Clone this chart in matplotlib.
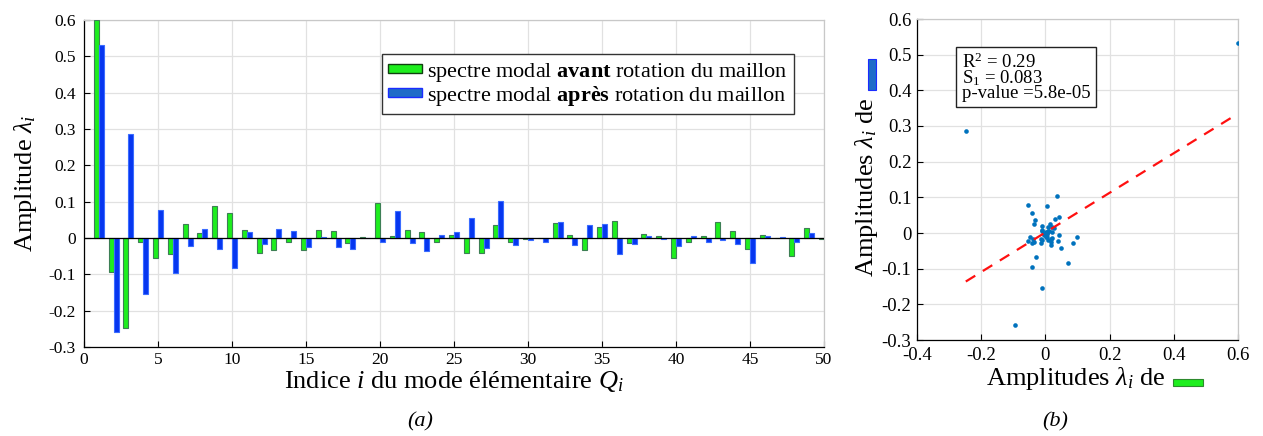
import numpy as np
import matplotlib
matplotlib.use("Agg")
import matplotlib.pyplot as plt
from matplotlib.patches import Rectangle
from matplotlib.ticker import FuncFormatter

plt.rcParams['font.family'] = ['Liberation Serif', 'DejaVu Serif']
plt.rcParams['mathtext.fontset'] = 'custom'
plt.rcParams['mathtext.rm'] = 'Liberation Serif'
plt.rcParams['mathtext.it'] = 'Liberation Serif:italic'
plt.rcParams['mathtext.bf'] = 'Liberation Serif:bold'
plt.rcParams['axes.unicode_minus'] = False

# modal amplitudes for modes 1..50, before / after rotation of the link
modes = np.arange(1, 51)
avant = [0.600, -0.094, -0.248, -0.011, -0.055, -0.043, 0.038, 0.013, 0.087, 0.070,
         0.022, -0.040, -0.034, -0.012, -0.034, 0.022, 0.018, -0.014, 0.004, 0.097,
         0.006, 0.022, 0.016, -0.012, 0.008, -0.041, -0.042, 0.037, -0.012, -0.003,
         0.001, 0.042, 0.008, -0.032, 0.031, 0.048, -0.014, 0.010, 0.006, -0.054,
         -0.011, 0.005, 0.043, 0.018, -0.030, 0.008, 0.001, -0.049, 0.028, -0.003]
apres = [0.532, -0.259, 0.287, -0.154, 0.078, -0.096, -0.023, 0.026, -0.029, -0.083,
         0.017, -0.017, 0.026, 0.020, -0.025, 0.003, -0.025, -0.029, -0.001, -0.012,
         0.075, -0.015, -0.035, 0.008, 0.016, 0.056, -0.028, 0.103, -0.019, -0.006,
         -0.012, 0.044, -0.019, 0.037, 0.039, -0.043, -0.016, 0.006, -0.004, -0.022,
         0.006, -0.012, -0.006, -0.017, -0.068, 0.006, 0.003, -0.010, 0.015, -0.002]
leg_avant = r"spectre modal $\mathbf{avant}$ rotation du maillon"
leg_apres = r"spectre modal $\mathbf{après}$ rotation du maillon"
stats_txt = "R$^2$ = 0.29\nS$_1$ = 0.083\np-value =5.8e-05"

green_face, green_edge = '#1eee1e', '#3d7f55'
blue_face, blue_edge = '#0636f0', '#3a6cff'
leg_blue_face = '#1f6cc8'
grid_col = '#e1e1e1'

W, H = 1263, 436
fig = plt.figure(figsize=(W / 100, H / 100), dpi=100)

def px_axes(x0, y0, x1, y1):
    return fig.add_axes([x0 / W, 1 - y1 / H, (x1 - x0) / W, (y1 - y0) / H])

def style(ax):
    ax.grid(True, color=grid_col, lw=0.9)
    ax.set_axisbelow(True)
    ax.tick_params(direction='in', length=4, width=0.8, top=False, right=False)
    for s in ax.spines.values():
        s.set_linewidth(0.9)
    ax.spines['top'].set_color('#c8c8c8')
    ax.spines['right'].set_color('#c8c8c8')
    fmt = FuncFormatter(lambda v, p: '%g' % round(v, 2))
    ax.xaxis.set_major_formatter(fmt)
    ax.yaxis.set_major_formatter(fmt)

# (a) grouped bar chart of the modal spectra
ax1 = px_axes(84, 20, 824, 347)
bw = 0.33
ax1.bar(modes - 0.17, avant, width=bw, color=green_face, edgecolor=green_edge, lw=0.8, zorder=3)
ax1.bar(modes + 0.17, apres, width=bw, color=blue_face, edgecolor=blue_edge, lw=0.8, zorder=3)
ax1.axhline(0, color='black', lw=0.9, zorder=4)
ax1.set_xlim(0, 50)
ax1.set_ylim(-0.3, 0.6)
ax1.set_xticks(np.arange(0, 51, 5))
ax1.set_yticks(np.arange(-0.3, 0.61, 0.1))
style(ax1)
ax1.tick_params(labelsize=12.5)
ax1.tick_params(axis='y', pad=6)
ax1.set_ylabel(r"Amplitude $\lambda_i$", fontsize=19, labelpad=7)
ax1.set_xlabel(r"Indice $i$ du mode élémentaire $Q_i$", fontsize=19, labelpad=1)

handles = [Rectangle((0, 0), 1, 1, fc=green_face, ec='#104010', lw=1.0),
           Rectangle((0, 0), 1, 1, fc=leg_blue_face, ec='#1a2cff', lw=1.0)]
leg = ax1.legend(handles, [leg_avant, leg_apres], loc='upper left',
                 bbox_to_anchor=(0.403, 0.895), fontsize=16, frameon=True,
                 fancybox=False, edgecolor='#333333', framealpha=1,
                 handlelength=1.5, handleheight=0.3, handletextpad=0.25,
                 labelspacing=0.0, borderpad=0.28, borderaxespad=0)
leg.get_frame().set_linewidth(1.0)

# (b) after vs before amplitudes with linear fit
ax2 = px_axes(917, 19, 1238, 340)
ax2.scatter(avant, apres, s=11, color='#0072BD', zorder=3, linewidths=0)
slope, inter = np.polyfit(avant, apres, 1)
xf = np.array([min(avant), max(avant)])
ax2.plot(xf, slope * xf + inter, color='#ff1010', lw=1.6, ls=(0, (5, 4)), zorder=4)
ax2.set_xlim(-0.4, 0.6)
ax2.set_ylim(-0.3, 0.6)
ax2.set_xticks(np.arange(-0.4, 0.61, 0.2))
ax2.set_yticks(np.arange(-0.3, 0.61, 0.1))
style(ax2)
ax2.tick_params(labelsize=13.5)
ax2.tick_params(axis='y', pad=4)
ax2.tick_params(axis='x', pad=5)
ax2.text(0.14, 0.895, stats_txt, transform=ax2.transAxes, fontsize=13.5,
         va='top', ha='left', linespacing=0.75,
         bbox=dict(boxstyle='square,pad=0.3', fc='white', ec='#222222', lw=1.0))

# axis titles of (b), each followed by a colour swatch
fig.text(1165 / W, 1 - 378 / H, r"Amplitudes $\lambda_i$ de", fontsize=19,
         ha='right', va='center')
fig.patches.append(Rectangle((1173 / W, 1 - 386 / H), 30 / W, 7 / H,
                             transform=fig.transFigure, fc=green_face, ec='#2d8a2d', lw=0.8))
fig.text(867 / W, 1 - 98 / H, r"Amplitudes $\lambda_i$ de", fontsize=19,
         ha='center', va='top', rotation=90)
fig.patches.append(Rectangle((868 / W, 1 - 90 / H), 8 / W, 31 / H,
                             transform=fig.transFigure, fc=leg_blue_face, ec='#1a2cff', lw=0.8))

fig.text(420 / W, 1 - 422 / H, "(a)", fontsize=16, style='italic', ha='center', va='center')
fig.text(1055 / W, 1 - 422 / H, "(b)", fontsize=16, style='italic', ha='center', va='center')

fig.savefig("out.png", dpi=100)
